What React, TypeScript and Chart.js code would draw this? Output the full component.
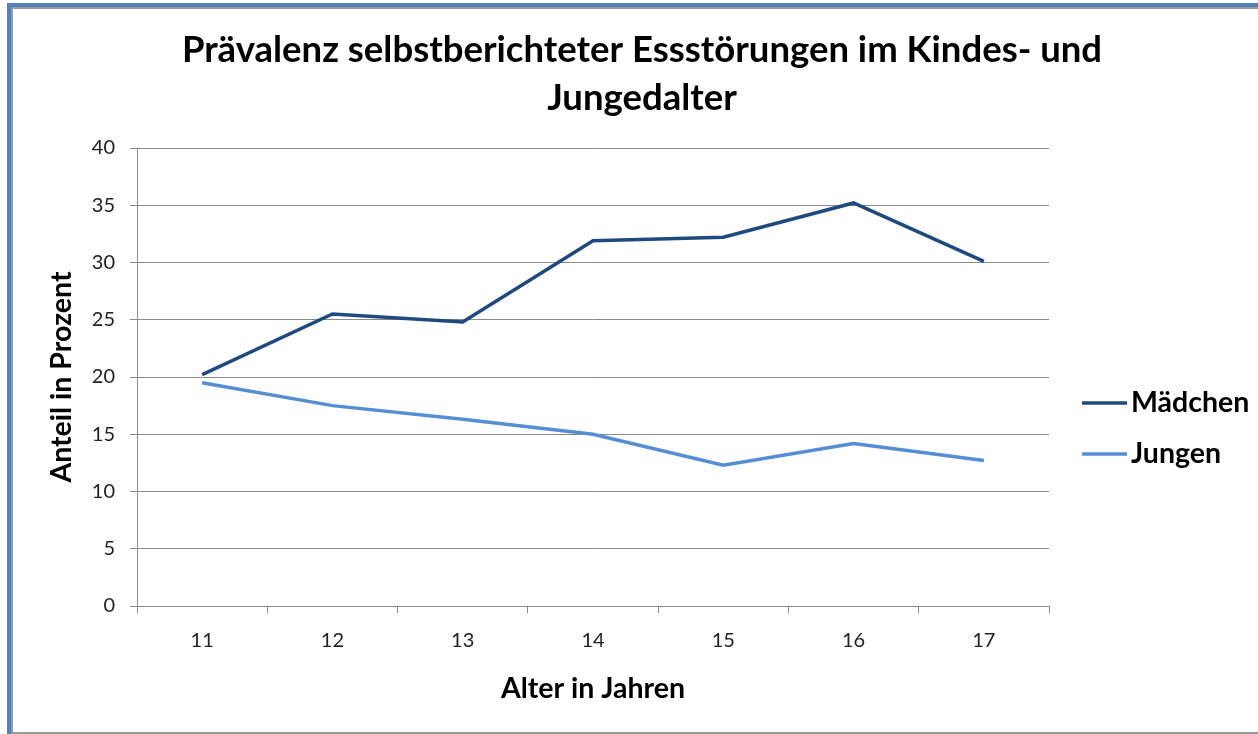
import React, { useEffect, useRef } from "react";
import { Chart, registerables } from "chart.js";

Chart.register(...registerables);

const categories = ["11", "12", "13", "14", "15", "16", "17"];
const maedchen = [20.2, 25.5, 24.8, 31.9, 32.2, 35.2, 30.1];
const jungen = [19.5, 17.5, 16.3, 15.0, 12.3, 14.2, 12.7];
const seriesNames = ["Mädchen", "Jungen"];
const seriesColors = ["#1F4A7E", "#558ED5"];
const titleLines = ["Prävalenz selbstberichteter Essstörungen im Kindes- und", "Jungedalter"];
const yAxisTitle = "Anteil in Prozent";
const xAxisTitle = "Alter in Jahren";
const yMin = 0;
const yMax = 40;
const yStep = 5;

const FONT = "Lato, 'Open Sans', sans-serif";

const decorPlugin = {
  id: "decor",
  beforeDraw(chart: any) {
    const { ctx, width, height } = chart;
    ctx.save();
    ctx.fillStyle = "#ffffff";
    ctx.fillRect(0, 0, width, height);
    // outer frame
    ctx.fillStyle = "#4F81BD";
    ctx.fillRect(7, 3, 4, height - 3);
    ctx.fillRect(7, 3, width - 7, 4);
    ctx.fillStyle = "#9a9a9a";
    ctx.fillRect(11, 7, 2, height - 7);
    ctx.fillRect(11, 7, width - 11, 2);
    ctx.fillRect(11, height - 2, width - 11, 2);
    ctx.restore();
  },
  afterDraw(chart: any) {
    const { ctx } = chart;
    ctx.save();
    // title
    ctx.fillStyle = "#000000";
    ctx.font = `bold 36.5px ${FONT}`;
    ctx.textAlign = "center";
    ctx.textBaseline = "middle";
    ctx.fillText(titleLines[0], 642, 50);
    ctx.fillText(titleLines[1], 642, 98);
    // legend
    const legendY = [403, 454];
    chart.data.datasets.forEach((ds: any, i: number) => {
      ctx.strokeStyle = ds.borderColor;
      ctx.lineWidth = 3.5;
      ctx.beginPath();
      ctx.moveTo(1082, legendY[i]);
      ctx.lineTo(1127, legendY[i]);
      ctx.stroke();
      ctx.fillStyle = "#000000";
      ctx.font = `bold 28.5px ${FONT}`;
      ctx.textAlign = "left";
      ctx.textBaseline = "middle";
      ctx.fillText(ds.label, 1131, legendY[i]);
    });
    ctx.restore();
  },
};

export default function App() {
  const canvasRef = useRef<HTMLCanvasElement | null>(null);

  useEffect(() => {
    const canvas = canvasRef.current;
    if (!canvas) return;
    const gridColor = "#8a8a8a";
    const chart = new Chart(canvas, {
      type: "line",
      data: {
        labels: categories,
        datasets: [
          {
            label: seriesNames[0],
            data: maedchen,
            borderColor: seriesColors[0],
            backgroundColor: seriesColors[0],
            borderWidth: 3.5,
            pointRadius: 0,
            tension: 0,
          },
          {
            label: seriesNames[1],
            data: jungen,
            borderColor: seriesColors[1],
            backgroundColor: seriesColors[1],
            borderWidth: 3.5,
            pointRadius: 0,
            tension: 0,
          },
        ],
      },
      options: {
        responsive: false,
        animation: false,
        events: [],
        layout: { padding: { top: 148, right: 209, bottom: 0, left: 0 } },
        plugins: {
          legend: { display: false },
          title: { display: false },
          tooltip: { enabled: false },
        },
        scales: {
          x: {
            offset: true,
            afterFit: (scale: any) => {
              scale.height = 128;
            },
            grid: {
              offset: true,
              drawOnChartArea: false,
              drawTicks: true,
              tickLength: 7,
              color: gridColor,
              lineWidth: 1,
            },
            border: { display: true, color: gridColor, width: 1 },
            ticks: {
              padding: 16,
              color: "#222222",
              font: { family: FONT, size: 20 },
              maxRotation: 0,
            },
            title: {
              display: true,
              text: xAxisTitle,
              color: "#000000",
              font: { family: FONT, size: 28.5, weight: "bold" },
              padding: { top: 0, bottom: 28 },
            },
          },
          y: {
            min: yMin,
            max: yMax,
            afterFit: (scale: any) => {
              scale.width = 137;
            },
            grid: {
              drawTicks: true,
              tickLength: 7,
              color: gridColor,
              lineWidth: 1,
            },
            border: { display: true, color: gridColor, width: 1 },
            ticks: {
              stepSize: yStep,
              padding: 15,
              color: "#222222",
              font: { family: FONT, size: 20 },
            },
            title: {
              display: true,
              text: yAxisTitle,
              color: "#000000",
              font: { family: FONT, size: 28.5, weight: "bold" },
              padding: { top: 45, bottom: 0 },
            },
          },
        },
      },
      plugins: [decorPlugin],
    });
    return () => chart.destroy();
  }, []);

  return (
    <div style={{ position: "absolute", left: 0, top: 0, width: 1258, height: 734 }}>
      <canvas ref={canvasRef} width={1258} height={734} style={{ width: 1258, height: 734, display: "block" }} />
    </div>
  );
}
